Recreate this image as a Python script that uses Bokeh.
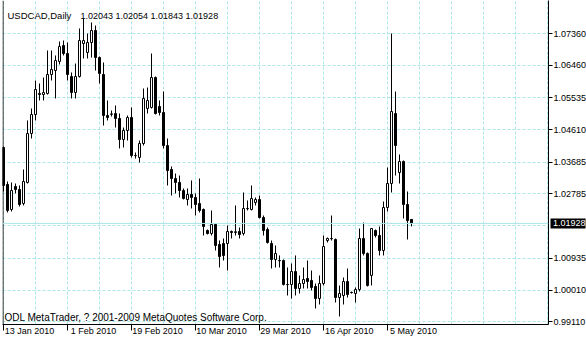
from bokeh.plotting import figure
from bokeh.models import FixedTicker, Label, Span, ColumnDataSource, PrintfTickFormatter
from bokeh.embed import file_html
from bokeh.resources import INLINE

symbol = "USDCAD,Daily"
copyright_text = "ODL MetaTrader, ? 2001-2009 MetaQuotes Software Corp."

# daily bars starting 13 Jan 2010 (Sunday sessions included)
opens = [
    1.04103, 1.03043, 1.02327, 1.02986, 1.02900, 1.02499, 1.03101, 1.04504, 1.05048, 1.05650,
    1.05621, 1.05650, 1.06194, 1.06309, 1.06567, 1.07025, 1.06796, 1.06137, 1.05679, 1.06137,
    1.07082, 1.06825, 1.07111, 1.07455, 1.06681, 1.06194, 1.05020, 1.05065, 1.05077, 1.04934,
    1.04332, 1.04590, 1.04963, 1.03874, 1.03817, 1.04218, 1.05220, 1.05249, 1.06108, 1.05278,
    1.05106, 1.04160, 1.03473, 1.03215, 1.03101, 1.02871, 1.02614, 1.02757, 1.02671, 1.02499,
    1.02327, 1.01726, 1.01640, 1.01898, 1.01325, 1.01353, 1.01353, 1.01697, 1.01668, 1.01697,
    1.01640, 1.02356, 1.02327, 1.02528, 1.02614, 1.02098, 1.01754, 1.01353, 1.00895, 1.00866,
    1.00866, 1.00179, 1.00179, 1.00551, 1.00064, 1.00207, 1.00351, 1.00293, 1.00122, 0.99778,
    1.00207, 1.01439, 1.01497, 1.01468, 0.99806, 0.99864, 1.00265, 0.99950, 0.99921, 1.00036,
    1.01497, 1.01067, 1.00437, 1.01726, 1.01582, 1.01153, 1.02385, 1.03072, 1.05077, 1.03387,
    1.03702, 1.02470, 1.02043,
]
highs = [
    1.04132, 1.03129, 1.03101, 1.03072, 1.03015, 1.03473, 1.04877, 1.05220, 1.06022, 1.05937,
    1.06108, 1.06882, 1.06882, 1.06739, 1.07140, 1.07168, 1.07111, 1.06252, 1.06509, 1.07512,
    1.07798, 1.07369, 1.07684, 1.07598, 1.06710, 1.06538, 1.05450, 1.05163, 1.05306, 1.05077,
    1.04676, 1.05020, 1.05249, 1.03960, 1.04304, 1.05793, 1.05822, 1.06796, 1.06137, 1.05450,
    1.05707, 1.04361, 1.03559, 1.03358, 1.03301, 1.02929, 1.02929, 1.03158, 1.02786, 1.03215,
    1.02356, 1.01754, 1.02299, 1.01926, 1.01439, 1.01497, 1.01869, 1.01726, 1.02442, 1.01812,
    1.02814, 1.02585, 1.03015, 1.02671, 1.02728, 1.02155, 1.01812, 1.01439, 1.01296, 1.01010,
    1.00895, 1.00666, 1.00780, 1.01010, 1.00437, 1.00666, 1.00866, 1.00580, 1.00207, 1.00437,
    1.01582, 1.01525, 1.02155, 1.01497, 1.00150, 1.00379, 1.00637, 0.99978, 1.00093, 1.01783,
    1.01955, 1.01096, 1.01790, 1.01754, 1.01840, 1.02556, 1.03530, 1.07369, 1.05707, 1.03903,
    1.03731, 1.02843, 1.02054,
]
lows = [
    1.02843, 1.02241, 1.02270, 1.02786, 1.02413, 1.02442, 1.03072, 1.04361, 1.04877, 1.05450,
    1.05450, 1.05621, 1.06022, 1.05507, 1.06481, 1.06739, 1.06022, 1.05507, 1.05507, 1.06108,
    1.06653, 1.06653, 1.06681, 1.06309, 1.05937, 1.04733, 1.04877, 1.04991, 1.04676, 1.04075,
    1.04103, 1.04304, 1.03817, 1.03788, 1.03674, 1.04160, 1.05077, 1.05220, 1.05048, 1.05020,
    1.04075, 1.03015, 1.02728, 1.02786, 1.02671, 1.02614, 1.02442, 1.02356, 1.02155, 1.02241,
    1.01582, 1.01611, 1.01582, 1.01153, 1.00666, 1.00866, 1.00580, 1.01497, 1.01582, 1.01497,
    1.01582, 1.02299, 1.02299, 1.02442, 1.02069, 1.01582, 1.01353, 1.00637, 1.00666, 1.00666,
    1.00150, 0.99864, 0.99778, 0.99864, 0.99921, 1.00064, 1.00064, 1.00007, 0.99491, 0.99606,
    1.00150, 1.01382, 1.01439, 0.99663, 0.99262, 0.99606, 0.99806, 0.99921, 0.99663, 0.99978,
    1.01010, 1.00122, 1.00150, 1.01525, 1.01010, 1.01010, 1.02270, 1.02814, 1.03301, 1.03072,
    1.02069, 1.01468, 1.01843,
]
closes = [
    1.03015, 1.02299, 1.02871, 1.02900, 1.02470, 1.03129, 1.04504, 1.05048, 1.05765, 1.05621,
    1.05679, 1.06194, 1.06338, 1.06595, 1.06996, 1.06796, 1.06194, 1.05679, 1.06137, 1.07168,
    1.07168, 1.07111, 1.07455, 1.06681, 1.06223, 1.05020, 1.04963, 1.05055, 1.04934, 1.04332,
    1.04590, 1.04963, 1.03874, 1.03870, 1.04218, 1.05507, 1.05450, 1.06108, 1.05077, 1.05106,
    1.04160, 1.03444, 1.03215, 1.03101, 1.02871, 1.02642, 1.02757, 1.02671, 1.02470, 1.02299,
    1.01840, 1.01640, 1.01898, 1.01296, 1.00981, 1.01010, 1.01697, 1.01668, 1.01690, 1.01611,
    1.02356, 1.02350, 1.02642, 1.02614, 1.02098, 1.01726, 1.01382, 1.00895, 1.01067, 1.00860,
    1.00179, 1.00175, 1.00551, 1.00064, 1.00207, 1.00322, 1.00265, 1.00093, 0.99778, 1.00207,
    1.01267, 1.01497, 1.01490, 0.99806, 0.99921, 1.00265, 0.99892, 0.99945, 1.00036, 1.01497,
    1.01067, 1.00150, 1.01783, 1.01582, 1.01153, 1.02385, 1.03072, 1.05134, 1.04160, 1.03702,
    1.02470, 1.02012, 1.01928,
]

date_labels = ["13 Jan 2010", "1 Feb 2010", "19 Feb 2010", "10 Mar 2010",
               "29 Mar 2010", "16 Apr 2010", "5 May 2010"]
date_bars = [0, 16, 32, 48, 64, 80, 96]

price_levels = [0.99110, 1.00010, 1.00935, 1.01860, 1.02785, 1.03685,
                1.04610, 1.05535, 1.06460, 1.07360]
hidden_level = 1.01860

FONT = "Liberation Sans"
FSIZE = "9px"
GRID = "#ade6e6"

n = len(opens)
idx = list(range(n))
tops = [max(o, c) for o, c in zip(opens, closes)]
bottoms = [min(o, c) for o, c in zip(opens, closes)]
fills = ["black" if c < o else "white" for o, c in zip(opens, closes)]
src = ColumnDataSource(dict(x=idx, open=opens, high=highs, low=lows, close=closes,
                            top=tops, bottom=bottoms, fill=fills))

p = figure(frame_width=546, frame_height=324, output_backend="svg", toolbar_location=None,
           x_range=(-0.25, 136.25), y_range=(0.99033, 1.08314),
           y_axis_location="right", x_axis_location="below",
           min_border_left=2, min_border_top=0, min_border_right=38, min_border_bottom=16)
p.outline_line_color = None
p.background_fill_color = "white"
p.border_fill_color = "white"

# grid
p.xgrid.ticker = FixedTicker(ticks=list(range(0, 137, 8)))
p.ygrid.ticker = FixedTicker(ticks=price_levels)
for g in (p.xgrid, p.ygrid):
    g.grid_line_color = GRID
    g.grid_line_dash = "3 2"
    g.grid_line_width = 1

# x axis: labels to the right of the date tick marks
shift = 6.5
xa = p.xaxis[0]
xa.ticker = FixedTicker(ticks=[b + shift for b in date_bars], minor_ticks=date_bars)
xa.major_label_overrides = {b + shift: lab for b, lab in zip(date_bars, date_labels)}
xa.major_tick_out = 0
xa.major_tick_in = 0
xa.major_tick_line_color = None
xa.minor_tick_out = 6
xa.minor_tick_in = 0
xa.minor_tick_line_color = "black"
xa.axis_line_color = "black"
xa.major_label_standoff = -5
xa.major_label_text_font = FONT
xa.major_label_text_font_size = FSIZE
xa.major_label_text_color = "black"

# y axis on the right
ya = p.yaxis[0]
ya.ticker = FixedTicker(ticks=[v for v in price_levels if v != hidden_level])
ya.formatter = PrintfTickFormatter(format="%.5f")
ya.major_tick_out = 4
ya.major_tick_in = 0
ya.minor_tick_line_color = None
ya.axis_line_color = "black"
ya.major_label_standoff = 1
ya.major_label_text_font = FONT
ya.major_label_text_font_size = FSIZE
ya.major_label_text_color = "black"

# left frame line and bid line
p.add_layout(Span(location=-0.125, dimension="height", line_color="black", line_width=1))
p.add_layout(Span(location=closes[-1], dimension="width", line_color=GRID, line_width=1))

# candles
p.segment(x0="x", y0="low", x1="x", y1="high", source=src, line_color="black", line_width=1)
p.vbar(x="x", width=0.5, top="top", bottom="bottom", source=src,
       fill_color="fill", line_color="black", line_width=1)

# texts
p.add_layout(Label(x=5, y=309, x_units="screen", y_units="screen", text=symbol,
                   text_font=FONT, text_font_size="9.5px", text_color="black",
                   text_baseline="alphabetic"))
ohlc_text = " ".join(f"{v:.5f}" for v in (opens[-1], highs[-1], lows[-1], closes[-1]))
p.add_layout(Label(x=78, y=309, x_units="screen", y_units="screen", text=ohlc_text,
                   text_font=FONT, text_font_size=FSIZE, text_color="black",
                   text_baseline="alphabetic"))
p.add_layout(Label(x=2, y=7, x_units="screen", y_units="screen", text=copyright_text,
                   text_font=FONT, text_font_size="10px", text_color="black",
                   text_baseline="alphabetic"))

# price tag next to the right axis
tag = Label(x=136.75, y=closes[-1], x_units="data", y_units="data",
            text="\u00a0" + f"{closes[-1]:.5f}",
            text_font=FONT, text_font_size=FSIZE, text_color="white",
            background_fill_color="black", text_baseline="middle")
p.add_layout(tag, "right")

open("out.html", "w").write(file_html(p, INLINE))
